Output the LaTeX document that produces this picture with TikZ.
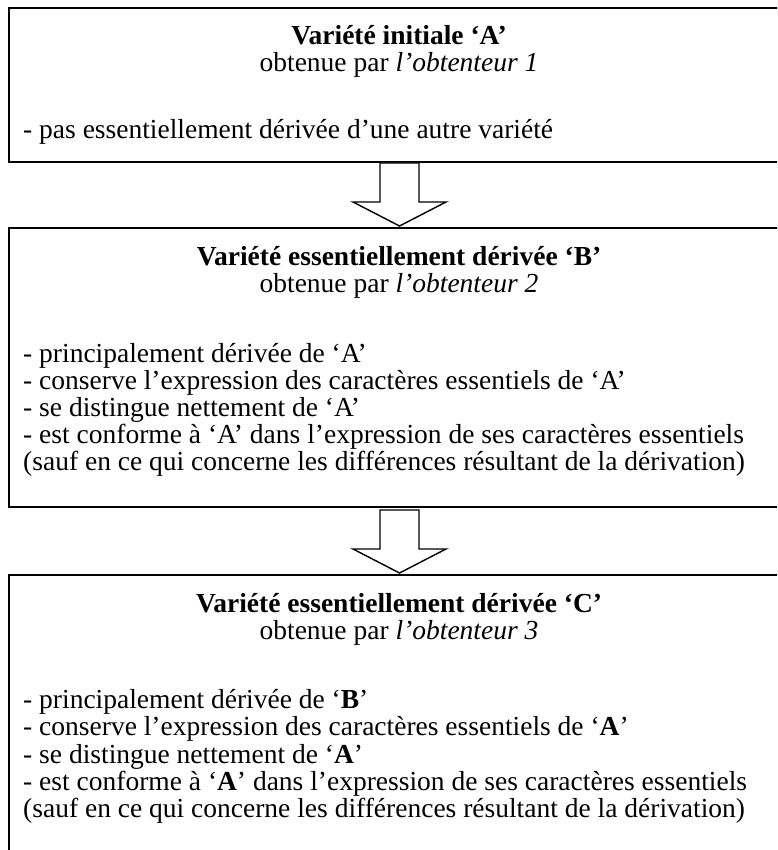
\documentclass[tikz,border=0pt]{standalone}
\usepackage{fontspec}
\setmainfont{Liberation Serif}
\usetikzlibrary{calc}
\begin{document}
\begin{tikzpicture}[x=1pt,y=-1pt,
  boxframe/.style={draw, line width=2.6pt, anchor=north west, outer sep=0pt, inner sep=0pt, minimum width=781pt},
  blockarrow/.style={draw, line width=1.4pt, line join=miter, fill=white},
  txt/.style={inner sep=0pt, font=\fontsize{27.5}{27}\selectfont},
  ttl/.style={txt, anchor=base},
  itm/.style={txt, anchor=base west},
  downarrow/.pic={\draw[blockarrow] (-19.5,0) -- (-19.5,39) -- (-46.5,39) -- (0,63) -- (46.5,39) -- (19.5,39) -- (19.5,0) -- cycle;}]
\useasboundingbox (0,0) rectangle (777,850);
\clip (0,0) rectangle (777,850);
% boxes
\node[boxframe, minimum height=154pt] (b1) at (9,8) {};
\node[boxframe, minimum height=279pt] (b2) at (9,228) {};
\node[boxframe, minimum height=330pt] (b3) at (9,575) {};
% arrows
\coordinate (a1) at ($(b1.south)+(0,1)$);
\coordinate (a2) at ($(b2.south)+(0,3)$);
\pic at (a1) {downarrow};
\pic at (a2) {downarrow};
% box 1
\node[ttl] (t1a) at (399,45) {\textbf{Variété initiale ‘A’}};
\node[ttl] (t1b) at (399,72) {obtenue par \textit{l’obtenteur 1}};
\node[itm] (i1a) at (23,139) {- pas essentiellement dérivée d’une autre variété};
% box 2
\node[ttl] (t2a) at (399,265) {\textbf{Variété essentiellement dérivée ‘B’}};
\node[ttl] (t2b) at (399,292) {obtenue par \textit{l’obtenteur 2}};
\node[itm] (i2a) at (23,362) {- principalement dérivée de ‘A’};
\node[itm] (i2b) at (23,389) {- conserve l’expression des caractères essentiels de ‘A’};
\node[itm] (i2c) at (23,416) {- se distingue nettement de ‘A’};
\node[itm] (i2d) at (23,443) {- est conforme à ‘A’ dans l’expression de ses caractères essentiels};
\node[itm] (i2e) at (23,470) {(sauf en ce qui concerne les différences résultant de la dérivation)};
% box 3
\node[ttl] (t3a) at (399,612) {\textbf{Variété essentiellement dérivée ‘C’}};
\node[ttl] (t3b) at (399,639) {obtenue par \textit{l’obtenteur 3}};
\node[itm] (i3a) at (23,708) {- principalement dérivée de ‘\textbf{B}’};
\node[itm] (i3b) at (23,735) {- conserve l’expression des caractères essentiels de ‘\textbf{A}’};
\node[itm] (i3c) at (23,763) {- se distingue nettement de ‘\textbf{A}’};
\node[itm] (i3d) at (23,790) {- est conforme à ‘\textbf{A}’ dans l’expression de ses caractères essentiels};
\node[itm] (i3e) at (23,817) {(sauf en ce qui concerne les différences résultant de la dérivation)};
\end{tikzpicture}
\end{document}
